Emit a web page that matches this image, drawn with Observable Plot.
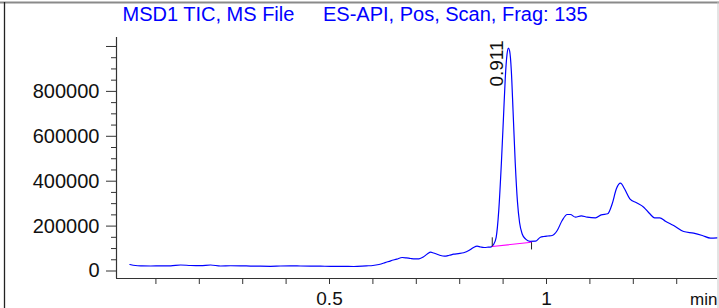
<!DOCTYPE html>
<html>
<head>
<meta charset="utf-8">
<script src="https://cdn.jsdelivr.net/npm/d3@7"></script>
<script src="https://cdn.jsdelivr.net/npm/@observablehq/plot@0.6"></script>
<style>
  html, body { margin: 0; padding: 0; background: #fff; }
  #chart { width: 719px; height: 308px; overflow: hidden; }
</style>
</head>
<body>
<div id="chart"></div>
<script>
// ---- Data (time in min, intensity in counts) ----
const times = [
  0.040, 0.053, 0.068, 0.088, 0.110, 0.134, 0.157, 0.180, 0.203, 0.226,
  0.249, 0.272, 0.295, 0.318, 0.341, 0.364, 0.387, 0.410, 0.433, 0.456,
  0.479, 0.502, 0.530, 0.556, 0.585, 0.600, 0.614, 0.628, 0.641, 0.655,
  0.6675, 0.677, 0.687, 0.697, 0.706, 0.716, 0.726, 0.733, 0.740, 0.748,
  0.756, 0.765, 0.776, 0.786, 0.797, 0.809, 0.822, 0.832, 0.840, 0.848,
  0.856, 0.865, 0.8726, 0.878, 0.884, 0.890, 0.896, 0.901, 0.905, 0.909,
  0.912, 0.915, 0.919, 0.923, 0.928, 0.933, 0.938, 0.944, 0.952, 0.962,
  0.9746, 0.986, 0.9938, 1.003, 1.013, 1.0247, 1.036, 1.0477, 1.055, 1.0668,
  1.080, 1.0938, 1.1129, 1.126, 1.141, 1.1514, 1.161, 1.1705, 1.1797, 1.192,
  1.2074, 1.224, 1.238, 1.249, 1.261, 1.274, 1.293, 1.316, 1.339, 1.359,
  1.378, 1.393
];
const intensities = [
  29000, 24500, 23000, 22300, 23000, 23200, 26700, 24500, 23600, 26700,
  22300, 23500, 23200, 22000, 21400, 21000, 22300, 22800, 22300, 21800,
  21400, 21000, 21000, 20000, 23000, 24500, 29000, 37000, 45400, 53000,
  60100, 58500, 55700, 54000, 54300, 62000, 77000, 83700, 80000, 74800,
  69000, 65900, 70000, 74800, 77500, 81100, 92000, 105000, 110500, 107000,
  104700, 106000, 107800, 118000, 150000, 270000, 480000, 690000, 860000, 965000,
  993000, 980000, 890000, 710000, 480000, 310000, 215000, 165000, 142000, 132000,
  132700, 150500, 153700, 156000, 158100, 180400, 224900, 251600, 251600, 239600,
  245900, 239600, 237000, 250300, 254800, 299300, 366100, 391100, 366100, 321600,
  303800, 284200, 254800, 237000, 237000, 221800, 202700, 175900, 168400, 158100,
  146100, 147900
];

// Peak annotation
const peakTimes = [0.911];
const peakHeights = [993000];
const peakLabels = ["0.911"];

// Integration baseline (start / end of the integrated peak)
const integTimes = [0.875, 0.9655];
const integHeights = [109000, 128000];
const integTickTops = [150000, 128000];
const integTickBottoms = [109000, 96000];

// Axes
const xDomain = [0.0092, 1.394];
const yDomain = [-33400, 1040000];
const xMinorTicks = [0.1, 0.2, 0.3, 0.4, 0.5, 0.6, 0.7, 0.8, 0.9, 1.0, 1.1, 1.2, 1.3];
const xLabelTicks = [0.5, 1];
const xTickLabels = ["0.5", "1"];
const yMajorTicks = [0, 200000, 400000, 600000, 800000, 1000000];
const yTickLabels = ["0", "200000", "400000", "600000", "800000", ""];
const yMinorTicks = [50000, 100000, 150000, 250000, 300000, 350000, 450000, 500000, 550000,
  650000, 700000, 750000, 850000, 900000, 950000];

const titleLeft = "MSD1 TIC, MS File";
const titleRight = "ES-API, Pos, Scan, Frag: 135";
const xUnit = "min";

// ---- Build tables ----
const trace = times.map((t, i) => ({t, v: intensities[i]}));
const peaks = peakTimes.map((t, i) => ({t, v: peakHeights[i], label: peakLabels[i]}));
const integLine = integTimes.map((t, i) => ({t, v: integHeights[i]}));
const integTicks = integTimes.map((t, i) => ({t, v1: integTickBottoms[i], v2: integTickTops[i]}));

const font = "'Liberation Sans', Arial, Helvetica, sans-serif";

const chart = Plot.plot({
  width: 719,
  height: 308,
  marginLeft: 116,
  marginRight: 2,
  marginTop: 37,
  marginBottom: 30,
  style: {fontFamily: font, fontSize: "19px", color: "#000", background: "#fff", overflow: "visible"},
  x: {domain: xDomain},
  y: {domain: yDomain},
  marks: [
    // y axis: minor ticks, major ticks + labels
    Plot.axisY({ticks: yMinorTicks, tickSize: 5, tickFormat: () => "", label: null, stroke: "#333"}),
    Plot.axisY({ticks: yMajorTicks, tickSize: 10, tickPadding: 7, fontSize: 20,
      tickFormat: d => yTickLabels[yMajorTicks.indexOf(d)], label: null, stroke: "#333", fill: "#111"}),
    // x axis: ticks, labels
    Plot.axisX({ticks: xMinorTicks, tickSize: 6, tickFormat: () => "", label: null, stroke: "#333"}),
    Plot.axisX({ticks: xLabelTicks, tickSize: 0, tickPadding: 13, fontSize: 19,
      tickFormat: d => xTickLabels[xLabelTicks.indexOf(d)], label: null, fill: "#111"}),
    // axis lines
    Plot.ruleX([xDomain[0]], {stroke: "#333", strokeWidth: 1.2}),
    Plot.ruleY([yDomain[0]], {stroke: "#333", strokeWidth: 1.2}),
    // chromatogram trace
    Plot.line(trace, {x: "t", y: "v", stroke: "#0000ff", strokeWidth: 1.2, curve: "monotone-x"}),
    // integration baseline and its end ticks
    Plot.line(integLine, {x: "t", y: "v", stroke: "#ff00ff", strokeWidth: 1.1}),
    Plot.link(integTicks, {x1: "t", x2: "t", y1: "v1", y2: "v2", stroke: "#222", strokeWidth: 1}),
    // peak retention time label
    Plot.text(peaks, {x: "t", y: "v", text: "label", rotate: -90, textAnchor: "end",
      dx: -10.5, dy: -7.6, fontSize: 19, fill: "#111"}),
    // titles
    Plot.text([titleLeft], {frameAnchor: "top-left", text: d => d, textAnchor: "start",
      lineAnchor: "bottom", dx: 6, dy: -16.5, fontSize: 20, fill: "#0000ff"}),
    Plot.text([titleRight], {frameAnchor: "top-left", text: d => d, textAnchor: "start",
      lineAnchor: "bottom", dx: 206.5, dy: -16.5, fontSize: 20, fill: "#0000ff"}),
    // axis unit
    Plot.text([xUnit], {frameAnchor: "bottom-right", text: d => d, textAnchor: "end",
      lineAnchor: "bottom", dy: 26.5, fontSize: 17, fill: "#111"})
  ]
});

// window borders of the instrument report
const svg = d3.select(chart);
svg.append("line").attr("x1", 0).attr("x2", 719).attr("y1", 2.5).attr("y2", 2.5)
  .attr("stroke", "#8a8a8a").attr("stroke-width", 2);
svg.append("line").attr("x1", 4.5).attr("x2", 4.5).attr("y1", 2).attr("y2", 308)
  .attr("stroke", "#222").attr("stroke-width", 1.3);
svg.append("line").attr("x1", 718).attr("x2", 718).attr("y1", 2).attr("y2", 308)
  .attr("stroke", "#c8c8c8").attr("stroke-width", 1);

document.getElementById("chart").appendChild(chart);
</script>
</body>
</html>
